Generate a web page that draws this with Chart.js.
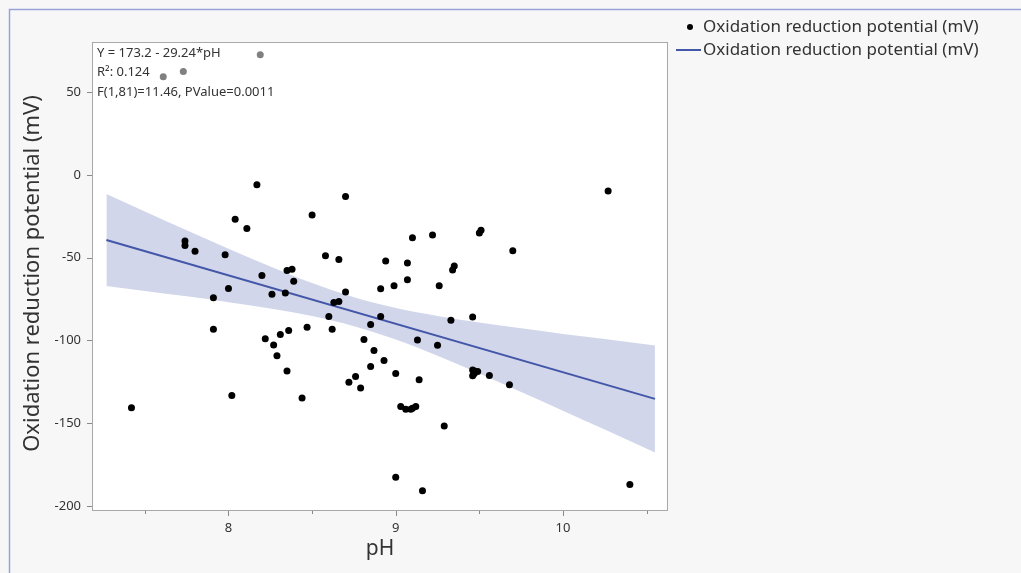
<!DOCTYPE html>
<html>
<head>
<meta charset="utf-8">
<script src="https://cdn.jsdelivr.net/npm/chart.js@4.4.1/dist/chart.umd.min.js"></script>
<style>
  html, body { margin: 0; padding: 0; background: #f7f7f7; }
  #wrap { width: 1021px; height: 573px; position: relative; }
</style>
</head>
<body>
<div id="wrap"><canvas id="c" width="1021" height="573"></canvas></div>
<script>
// ---- data ----
const phValues = [
  7.42, 7.61, 7.73, 8.19, 7.74, 7.74, 7.80, 7.98, 8.04, 8.11,
  8.17, 8.20, 8.00, 7.91, 8.26, 8.34, 8.35, 8.38, 8.39, 7.91,
  8.22, 8.27, 8.31, 8.36, 8.29, 8.35, 8.02, 8.70, 8.50, 8.58,
  8.66, 8.70, 8.63, 8.66, 8.60, 8.62, 8.47, 8.44, 8.81, 8.85,
  8.91, 8.87, 8.85, 8.93, 9.00, 8.76, 8.72, 8.79, 9.14, 8.94,
  9.07, 8.91, 8.99, 9.07, 9.10, 9.22, 9.50, 9.51, 9.35, 9.34,
  9.26, 9.13, 9.25, 9.33, 9.46, 9.03, 9.06, 9.09, 9.12, 9.29,
  9.00, 9.16, 10.27, 9.70, 9.46, 9.49, 9.46, 9.47, 9.56, 9.68,
  10.40, 9.10, 9.47
];
const orpValues = [
  -140.7, 59.2, 62.4, 72.5, -39.9, -42.7, -46.1, -48.3, -26.8, -32.4,
  -6.0, -60.8, -68.6, -74.3, -72.1, -71.3, -57.8, -57.0, -64.2, -93.2,
  -99.0, -102.7, -96.4, -94.0, -109.3, -118.4, -133.3, -13.1, -24.2, -48.9,
  -51.1, -70.7, -77.1, -76.5, -85.5, -93.2, -92.0, -134.7, -99.5, -90.4,
  -85.5, -106.1, -115.7, -112.1, -120.0, -121.8, -125.2, -128.8, -123.8, -52.1,
  -53.3, -68.8, -67.0, -63.4, -38.0, -36.4, -35.2, -33.5, -55.0, -57.4,
  -67.0, -99.8, -102.9, -87.8, -85.9, -139.9, -141.5, -141.5, -139.9, -151.6,
  -182.6, -190.8, -9.7, -45.9, -117.8, -118.8, -121.4, -120.0, -121.2, -126.8,
  -187.0, -141.0, -118.5
];
// fitted line end points
const fitPH  = [7.27, 10.55];
const fitORP = [-39.4, -135.3];
// confidence band edges
const bandPH    = [7.27, 7.5, 7.75, 8.0, 8.25, 8.5, 8.75, 9.0, 9.25, 9.5, 9.75, 10.0, 10.25, 10.55];
const bandUpper = [-11.6, -22.1, -33.4, -44.6, -55.3, -65.4, -73.9, -80.4, -85.2, -89.2, -92.7, -96.1, -99.2, -103.0];
const bandLower = [-67.2, -70.1, -73.4, -76.9, -80.7, -85.3, -91.4, -99.5, -109.3, -120.0, -131.1, -142.4, -153.8, -167.6];
// axis
const xMin = 7.184, xMax = 10.628, yMin = -203, yMax = 80.2;
const xMajorTicks = [8, 9, 10];
const xMinorTicks = [7.5, 8.5, 9.5, 10.5];
const yTicks = [50, 0, -50, -100, -150, -200];
const seriesLabel = 'Oxidation reduction potential (mV)';
const xTitle = 'pH';
const yTitle = 'Oxidation reduction potential (mV)';
const statLines = ['Y = 173.2 - 29.24*pH', 'R\u00B2: 0.124', 'F(1,81)=11.46, PValue=0.0011'];

const FONT = '"Noto Sans", "Open Sans", sans-serif';
const LINE_COLOR = '#4356a8';
const BAND_COLOR = '#d1d6ea';
const TEXT_COLOR = '#333333';

const pts = phValues.map((x, i) => ({ x: x, y: orpValues[i] }));
const fitPts = fitPH.map((x, i) => ({ x: x, y: fitORP[i] }));
const upPts = bandPH.map((x, i) => ({ x: x, y: bandUpper[i] }));
const loPts = bandPH.map((x, i) => ({ x: x, y: bandLower[i] }));

const decor = {
  id: 'decor',
  beforeDraw(chart) {
    const ctx = chart.ctx;
    const a = chart.chartArea;
    ctx.save();
    ctx.fillStyle = '#f7f7f7';
    ctx.fillRect(0, 0, chart.width, chart.height);
    // outer blue frame
    ctx.strokeStyle = '#98a4d9';
    ctx.lineWidth = 1.5;
    ctx.beginPath();
    ctx.moveTo(9.5, chart.height);
    ctx.lineTo(9.5, 9.5);
    ctx.lineTo(chart.width, 9.5);
    ctx.stroke();
    // plot background
    ctx.fillStyle = '#ffffff';
    ctx.fillRect(a.left, a.top, a.right - a.left, a.bottom - a.top);
    ctx.restore();
  },
  afterDatasetsDraw(chart) {
    const ctx = chart.ctx;
    const a = chart.chartArea;
    const xs = chart.scales.x, ys = chart.scales.y;
    ctx.save();
    // stats box (semi transparent)
    ctx.fillStyle = 'rgba(255,255,255,0.5)';
    ctx.fillRect(a.left + 1, a.top + 1, 188, 58);
    ctx.fillStyle = TEXT_COLOR;
    ctx.font = '13px ' + FONT;
    ctx.textBaseline = 'middle';
    ctx.textAlign = 'left';
    statLines.forEach((t, i) => ctx.fillText(t, a.left + 5, a.top + 11 + i * 19.5));
    // plot frame
    ctx.strokeStyle = '#a8a8a8';
    ctx.lineWidth = 1;
    ctx.strokeRect(a.left + 0.5, a.top + 0.5, a.right - a.left - 1, a.bottom - a.top - 1);
    // tick marks
    ctx.strokeStyle = '#888888';
    ctx.beginPath();
    xMajorTicks.forEach(v => { const p = Math.round(xs.getPixelForValue(v)) + 0.5; ctx.moveTo(p, a.bottom); ctx.lineTo(p, a.bottom + 5); });
    xMinorTicks.forEach(v => { const p = Math.round(xs.getPixelForValue(v)) + 0.5; ctx.moveTo(p, a.bottom); ctx.lineTo(p, a.bottom + 3); });
    yTicks.forEach(v => { const p = Math.round(ys.getPixelForValue(v)) + 0.5; ctx.moveTo(a.left, p); ctx.lineTo(a.left - 5, p); });
    ctx.stroke();
    // axis titles
    ctx.fillStyle = TEXT_COLOR;
    ctx.font = '21px ' + FONT;
    ctx.textAlign = 'center';
    ctx.textBaseline = 'middle';
    ctx.fillText(xTitle, (a.left + a.right) / 2, 549);
    ctx.save();
    ctx.font = '22px ' + FONT;
    ctx.translate(33, (a.top + a.bottom) / 2 - 3);
    ctx.rotate(-Math.PI / 2);
    ctx.fillText(yTitle, 0, 0);
    ctx.restore();
    // legend
    ctx.font = '17px ' + FONT;
    ctx.textAlign = 'left';
    ctx.fillStyle = '#000';
    ctx.beginPath();
    ctx.arc(690, 27, 3, 0, Math.PI * 2);
    ctx.fill();
    ctx.fillStyle = TEXT_COLOR;
    ctx.fillText(seriesLabel, 703, 27);
    ctx.strokeStyle = LINE_COLOR;
    ctx.lineWidth = 2;
    ctx.beginPath();
    ctx.moveTo(676, 50); ctx.lineTo(701, 50);
    ctx.stroke();
    ctx.fillText(seriesLabel, 703, 50);
    ctx.restore();
  }
};

new Chart(document.getElementById('c'), {
  type: 'scatter',
  data: {
    datasets: [
      { label: 'band upper', data: upPts, showLine: true, pointRadius: 0, borderWidth: 0, borderColor: 'rgba(0,0,0,0)', fill: false, cubicInterpolationMode: 'monotone', order: 3 },
      { label: 'band lower', data: loPts, showLine: true, pointRadius: 0, borderWidth: 0, borderColor: 'rgba(0,0,0,0)', backgroundColor: BAND_COLOR, fill: '-1', cubicInterpolationMode: 'monotone', order: 2 },
      { label: seriesLabel + ' fit', data: fitPts, showLine: true, pointRadius: 0, borderColor: LINE_COLOR, borderWidth: 2, fill: false, order: 1 },
      { label: seriesLabel, data: pts, pointRadius: 3.5, pointHoverRadius: 3.5, backgroundColor: '#000', borderWidth: 0, order: 0 }
    ]
  },
  options: {
    responsive: false,
    animation: false,
    events: [],
    layout: { padding: { top: 42, right: 353, left: 0, bottom: 0 } },
    plugins: { legend: { display: false }, tooltip: { enabled: false }, filler: { propagate: false } },
    scales: {
      x: {
        type: 'linear', min: xMin, max: xMax,
        afterFit(s) { s.height = 62; },
        grid: { display: false, drawTicks: false },
        border: { display: false },
        ticks: {
          stepSize: 0.5, includeBounds: false, padding: 9, color: TEXT_COLOR,
          font: { family: FONT, size: 13 }, maxRotation: 0,
          callback: v => (xMajorTicks.includes(v) ? String(v) : '')
        }
      },
      y: {
        type: 'linear', min: yMin, max: yMax,
        afterFit(s) { s.width = 92; },
        grid: { display: false, drawTicks: false },
        border: { display: false },
        ticks: {
          stepSize: 50, includeBounds: false, padding: 11, color: TEXT_COLOR,
          font: { family: FONT, size: 13 },
          callback: v => (yTicks.includes(v) ? String(v) : '')
        }
      }
    }
  },
  plugins: [decor]
});
</script>
</body>
</html>
